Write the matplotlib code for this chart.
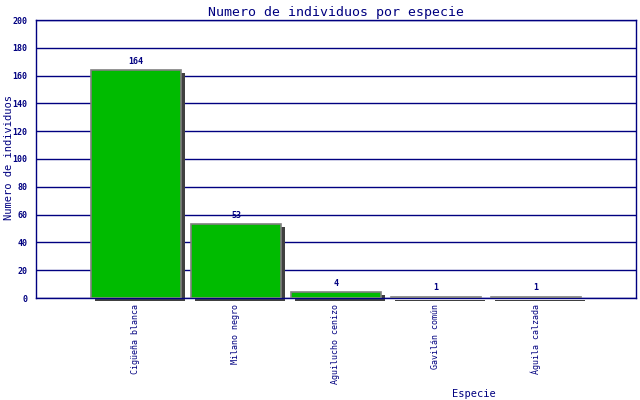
import matplotlib
matplotlib.use('Agg')
import matplotlib.pyplot as plt
import matplotlib.transforms as mtransforms

especies = ['Cigüeña blanca', 'Milano negro', 'Aguilucho cenizo', 'Gavilán común', 'Águila calzada']
individuos = [164, 53, 4, 1, 1]

navy = '#000080'
plt.rcParams['font.family'] = 'DejaVu Sans Mono'

fig = plt.figure(figsize=(6.4, 4.0), dpi=100)
ax = fig.add_axes([36/640, 1-298/400, 600/640, 278/400])

pos = list(range(len(especies)))
# sombra desplazada unos pixeles
sombra = mtransforms.offset_copy(ax.transData, fig=fig, x=4, y=-3, units='dots')
ax.bar(pos, individuos, width=0.9, color='#404040', transform=sombra, clip_on=False, zorder=2)
ax.bar(pos, individuos, width=0.9, color='#00bb00', edgecolor='#808080', linewidth=1.2, zorder=3)

for p, v in zip(pos, individuos):
    ax.annotate(str(v), (p, v), xytext=(0, 3), textcoords='offset points',
                ha='center', va='bottom', fontsize=6, color=navy, fontweight='bold')

ax.set_xlim(-1, 5)
ax.set_ylim(0, 200)
ax.set_yticks(range(0, 201, 20))
ax.tick_params(axis='y', labelsize=6, colors=navy, length=0, pad=6)
ax.set_xticks(pos)
ax.set_xticklabels(especies, rotation=90, fontsize=6, color=navy, va='top')
ax.tick_params(axis='x', length=0, pad=4)
for lab in ax.get_yticklabels():
    lab.set_fontweight('bold')
ax.grid(axis='y', color=navy, linewidth=1)
ax.set_axisbelow(True)
for s in ax.spines.values():
    s.set_color(navy)
    s.set_linewidth(1)

ax.set_title('Numero de individuos por especie', color=navy, fontsize=9.5, pad=3)
fig.text(9/640, 1-158/400, 'Numero de individuos', color=navy, fontsize=7.5,
         rotation=90, ha='center', va='center')
fig.text(474/640, 1-394/400, 'Especie', color=navy, fontsize=7.5, ha='center', va='center')

fig.savefig('out.png', dpi=100)
